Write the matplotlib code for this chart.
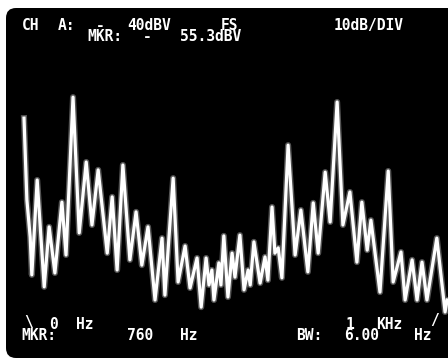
import matplotlib
matplotlib.use("Agg")
import matplotlib.pyplot as plt
from matplotlib.patches import FancyBboxPatch

# Spectrum trace: frequency (Hz) and level (dBV)
freq_hz = [0, 7, 15, 19, 32, 49, 61, 75, 92, 102, 119, 134, 151, 165, 180, 202, 214, 226,
           240, 257, 272, 286, 301, 318, 335, 342, 362, 374, 391, 403, 420, 430, 442, 449,
           456, 461, 473, 478, 485, 495, 505, 512, 524, 534, 544, 549, 558, 573, 585, 592,
           602, 609, 617, 626, 641, 658, 672, 689, 702, 714, 731, 743, 760, 774, 791, 808,
           820, 833, 842, 864, 884, 896, 915, 925, 942, 954, 966, 978, 1002, 1022, 1027]
level_dbv = [-59.5, -81.3, -91.2, -101.3, -76.0, -104.5, -88.5, -100.8, -81.9, -96.0, -53.9,
             -90.1, -71.2, -88.0, -73.3, -95.5, -80.5, -100.0, -72.0, -97.3, -84.5, -98.7,
             -88.5, -108.0, -91.5, -106.7, -75.5, -103.2, -93.6, -104.8, -96.8, -109.9, -96.8,
             -104.0, -100.0, -108.0, -98.1, -104.0, -90.9, -107.2, -95.5, -101.9, -90.7,
             -105.3, -100.0, -104.0, -92.5, -103.5, -96.5, -102.7, -83.2, -95.5, -94.1,
             -102.1, -66.7, -96.0, -84.0, -100.5, -82.1, -95.5, -73.9, -87.2, -55.2, -88.0,
             -79.2, -97.9, -81.9, -94.7, -86.7, -105.9, -73.6, -103.2, -95.2, -108.0, -97.3,
             -108.0, -97.9, -108.0, -91.5, -111.2, -108.0]

# Screen annotations (token, left x px, baseline y px)
top_tokens = [("CH", 22, 30), ("A:", 58, 30), ("-", 96, 30), ("40dBV", 127, 30),
              ("FS", 221, 30), ("10dB/DIV", 334, 30),
              ("MKR:", 87, 41), ("-", 143, 41), ("55.3dBV", 180, 41)]
bottom_tokens = [("\\", 24, 327), ("0", 49, 329), ("Hz", 76, 329),
                 ("1", 346, 329), ("KHz", 376, 329), ("/", 430, 325),
                 ("MKR:", 21, 340), ("760", 127, 340), ("Hz", 180, 340),
                 ("BW:", 296, 340), ("6.00", 344, 340), ("Hz", 414, 340)]

W, H = 448, 360
fig = plt.figure(figsize=(W / 100, H / 100), dpi=100)
fig.patch.set_facecolor("white")

screen = FancyBboxPatch((6, 2), 470, 350, boxstyle="round,pad=0,rounding_size=10",
                        transform=None, facecolor="black", edgecolor="none", zorder=0)
fig.add_artist(screen)

ax = fig.add_axes([0, 0, 1, 1])
ax.set_facecolor("none")
ax.set_xlim(-58.25, 1029.1)
ax.set_ylim(-124, -28)
ax.axis("off")

ax.plot(freq_hz, level_dbv, color="#bbbbbb", lw=4.4, alpha=0.45, solid_joinstyle="round")
ax.plot(freq_hz, level_dbv, color="white", lw=2.3, solid_joinstyle="round")

for tok, x, y in top_tokens + bottom_tokens:
    fig.text(x / W, 1 - y / H, tok, color="white", fontsize=10.5, fontweight="bold",
             family="DejaVu Sans Mono", ha="left", va="baseline")

fig.savefig("out.png", dpi=100, facecolor="white")
